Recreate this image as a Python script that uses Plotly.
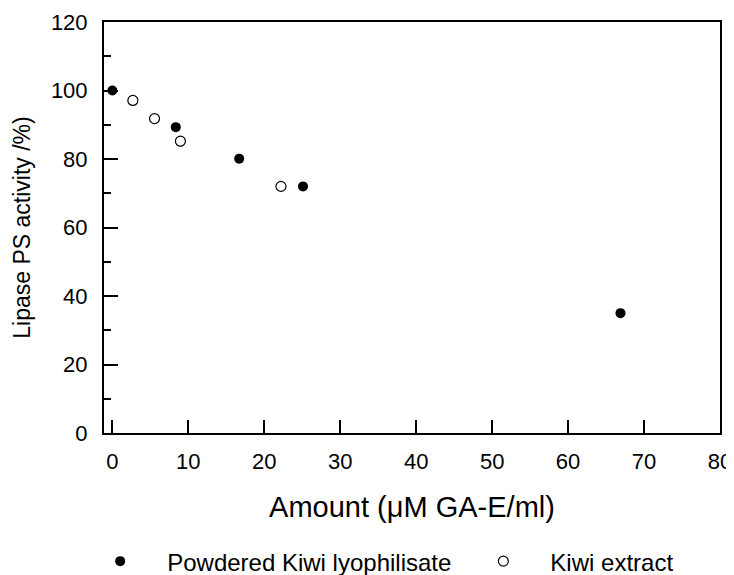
import plotly.graph_objects as go

# Data
powder_x = [0, 8.35, 16.7, 25.1, 66.9]
powder_y = [100, 89.3, 80.1, 72.0, 35.0]
extract_x = [2.7, 5.55, 8.96, 22.2]
extract_y = [97.1, 91.8, 85.2, 72.0]

x_ticks = [0, 10, 20, 30, 40, 50, 60, 70, 80]
y_ticks = [0, 20, 40, 60, 80, 100, 120]

FONT = "Liberation Sans, Arial, sans-serif"

fig = go.Figure()
fig.add_trace(go.Scatter(
    x=powder_x, y=powder_y, mode="markers", name="Powdered Kiwi lyophilisate",
    marker=dict(symbol="circle", size=10, color="black", line=dict(width=0))))
fig.add_trace(go.Scatter(
    x=extract_x, y=extract_y, mode="markers", name="Kiwi extract",
    marker=dict(symbol="circle", size=10, color="white", line=dict(width=1.2, color="black"))))

# page body has an 8px margin, so the figure is 8px smaller and margins shifted
fig.update_layout(
    width=726, height=567,
    margin=dict(l=96, r=13.5, t=13.7, b=142.3, autoexpand=False),
    paper_bgcolor="white", plot_bgcolor="white",
    font=dict(family=FONT, color="black", size=21),
    showlegend=True,
    legend=dict(orientation="h", x=-0.05, xanchor="left", y=-0.258, yanchor="top",
                font=dict(size=24, family=FONT), itemwidth=84,
                bgcolor="rgba(0,0,0,0)", tracegroupgap=0),
)
fig.update_xaxes(
    range=[-1.1, 80], tickvals=x_ticks, ticktext=[str(v) for v in x_ticks],
    ticks="inside", ticklen=13, tickwidth=1.5, tickcolor="black",
    showline=True, linecolor="black", linewidth=2, mirror=True,
    showgrid=False, zeroline=False,
    tickfont=dict(size=22, family=FONT), ticklabelstandoff=8,
    title=dict(text="Amount (μM GA-E/ml)", font=dict(size=29, family=FONT), standoff=23),
    automargin=False,
)
fig.update_yaxes(
    range=[0, 120], tickvals=y_ticks, ticktext=[str(v) for v in y_ticks],
    ticks="inside", ticklen=14, tickwidth=1.5, tickcolor="black",
    minor=dict(tickvals=[10, 30, 50, 70, 90, 110], ticks="inside", ticklen=7,
               tickwidth=1.5, tickcolor="black", showgrid=False),
    showline=True, linecolor="black", linewidth=2, mirror=True,
    showgrid=False, zeroline=False,
    tickfont=dict(size=22, family=FONT), ticklabelstandoff=10,
    title=dict(text="Lipase PS activity /%)", font=dict(size=23, family=FONT), standoff=14),
    automargin=False,
)

fig.write_html("out.html")
